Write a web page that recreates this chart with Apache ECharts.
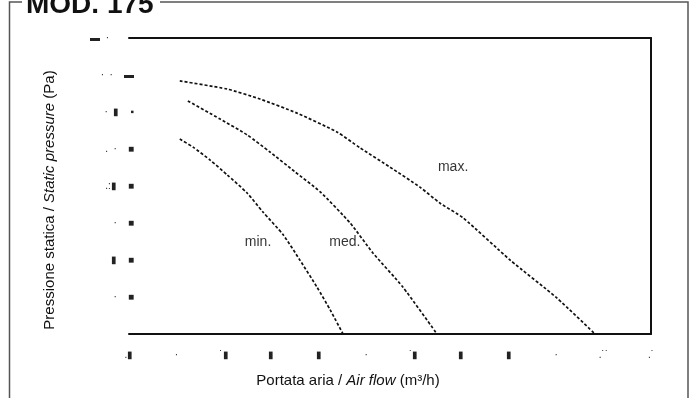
<!DOCTYPE html>
<html><head><meta charset="utf-8">
<script src="https://cdn.jsdelivr.net/npm/echarts@6/dist/echarts.min.js"></script>
<style>html,body{margin:0;padding:0;background:#fff}#c{width:690px;height:398px}</style>
</head><body><div id="c"></div>
<script>
// Tick labels (scan remnants, unreadable in the reference)
const xTickLabels = ['.▮','·','˙▮','▮','▮','·','˙▮','▮','▮','·','.˙˙','.˙'];
const yTickLabels = ['','·    ■','▮    ■','·    ■','.:▮    ■','.  ·    ■','·  ▮    ▪','·  ·    ▬','▬  ·         '];
// Curves [airflow, pressure] in axis units
const minCurve = [[1.07,5.27],[1.35,5.05],[1.71,4.70],[2.07,4.30],[2.49,3.81],[2.82,3.30],[3.25,2.68],[3.60,2.00],[3.96,1.27],[4.24,0.65],[4.51,0]];
const medCurve = [[1.24,6.30],[1.92,5.81],[2.49,5.38],[2.97,4.92],[3.50,4.38],[4.03,3.84],[4.66,3.00],[5.14,2.19],[5.77,1.27],[6.49,0]];
const maxCurve = [[1.07,6.84],[2.07,6.62],[2.76,6.35],[3.54,5.97],[4.38,5.46],[4.87,5.03],[5.50,4.51],[6.13,3.97],[6.55,3.54],[7.04,3.14],[8.03,2.00],[9.02,0.97],[9.82,0]];
const curveNames = ['min.','med.','max.'];
const curveLabelPos = [[2.72,2.49],[4.55,2.49],[6.83,4.51]];

const chart = echarts.init(document.getElementById('c'), null, {renderer:'canvas'});
const FONT = 'Liberation Sans, Arial, sans-serif';
const lineStyle = {color:'#111', width:1.7, type:[3,2]};
const mkLine = (d) => ({type:'line', data:d, smooth:0.2, symbol:'none', lineStyle, silent:true, z:3});
const frameAxisLine = {show:true, onZero:false, lineStyle:{color:'#111', width:2}};
chart.setOption({
  animation:false,
  grid:{left:129, top:38, right:39, bottom:64, show:false},
  xAxis:[{
    type:'value', min:0, max:11, interval:1, position:'bottom',
    axisLine:frameAxisLine,
    axisTick:{show:false}, splitLine:{show:false},
    axisLabel:{margin:16, fontSize:10, color:'#222', fontFamily:FONT, formatter:(v)=>xTickLabels[Math.round(v)]||''}
  },{
    type:'value', min:0, max:11, position:'top',
    axisLine:frameAxisLine,
    axisTick:{show:false}, axisLabel:{show:false}, splitLine:{show:false}
  }],
  yAxis:[{
    type:'value', min:0, max:8, interval:1, position:'left',
    axisLine:{show:false}, axisTick:{show:false}, splitLine:{show:false},
    axisLabel:{margin:-5, fontSize:10, color:'#222', fontFamily:FONT, formatter:(v)=>yTickLabels[Math.round(v)]||''}
  },{
    type:'value', min:0, max:8, position:'right',
    axisLine:frameAxisLine,
    axisTick:{show:false}, axisLabel:{show:false}, splitLine:{show:false}
  }],
  series:[
    mkLine(minCurve), mkLine(medCurve), mkLine(maxCurve),
    {type:'scatter', symbolSize:0, silent:true,
     data:curveLabelPos.map((p,i)=>({value:p, label:{show:true, position:'inside', formatter:curveNames[i]}})),
     label:{color:'#000', fontSize:14, fontFamily:FONT}}
  ],
  graphic:[
    {type:'polyline', shape:{points:[[22,2],[9.5,2],[9.5,398]]}, style:{stroke:'#555', lineWidth:1.5, fill:null}},
    {type:'polyline', shape:{points:[[160,2],[688,2],[688,398]]}, style:{stroke:'#555', lineWidth:1.5, fill:null}},
    {type:'text', x:26, y:5, style:{text:'MOD. 175', font:'bold 28px '+FONT, fill:'#111', textVerticalAlign:'middle'}},
    {type:'text', x:348, y:381, style:{rich:{n:{fontSize:15, fontFamily:FONT, fill:'#111'}, i:{fontSize:15, fontFamily:FONT, fontStyle:'italic', fill:'#111'}},
      text:'{n|Portata aria / }{i|Air flow}{n| (m³/h)}', textAlign:'center', textVerticalAlign:'middle'}},
    {type:'text', x:50, y:200, rotation:Math.PI/2, style:{rich:{n:{fontSize:15, fontFamily:FONT, fill:'#111'}, i:{fontSize:15, fontFamily:FONT, fontStyle:'italic', fill:'#111'}},
      text:'{n|Pressione statica / }{i|Static pressure}{n| (Pa)}', textAlign:'center', textVerticalAlign:'middle'}}
  ]
});
</script></body></html>
